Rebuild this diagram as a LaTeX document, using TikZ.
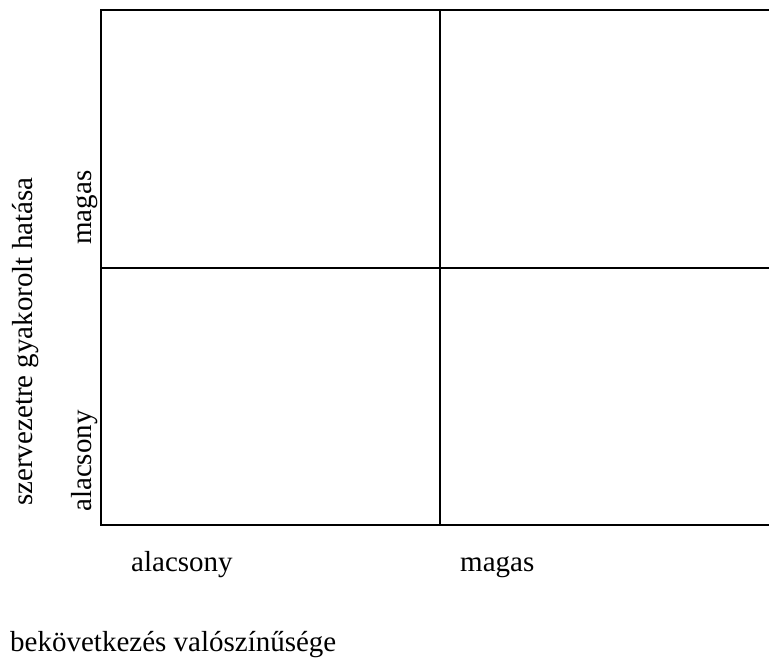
\documentclass[tikz,border=0pt]{standalone}
\usepackage{fontspec}
\setmainfont{Liberation Serif}
\tikzset{
  gridline/.style={line width=2pt},
  axislabel/.style={inner sep=0pt,font=\fontsize{29}{34}\selectfont},
}
\begin{document}
\begin{tikzpicture}[x=1pt,y=-1pt]
				\useasboundingbox (0,0) rectangle (769,658);
				\coordinate (TL) at (101,10);
				\coordinate (TR) at (772,10);
				\coordinate (BL) at (101,525);
				\coordinate (BR) at (772,525);
				\coordinate (TM) at (440,10);
				\coordinate (BM) at (440,525);
				\coordinate (ML) at (101,268);
				\coordinate (MR) at (772,268);
				\draw [gridline] (TR) -- (TL) -- (BL) -- (BR);
				\draw [gridline] (TM) -- (BM);
				\draw [gridline] (ML) -- (MR);
				\node [axislabel,anchor=base west] (xlow) at (131,571) {alacsony};
				\node [axislabel,anchor=base west] (xhigh) at (460,571) {magas};
				\node [axislabel,anchor=base west] (xtitle) at (10,651) {bekövetkezés valószínűsége};
				\node [axislabel,anchor=base west,rotate=90] (ylow) at (91,512) {alacsony};
				\node [axislabel,anchor=base west,rotate=90] (yhigh) at (91,245) {magas};
				\node [axislabel,anchor=base west,rotate=90] (ytitle) at (32,506) {szervezetre gyakorolt hatása};
			\end{tikzpicture}
\end{document}
